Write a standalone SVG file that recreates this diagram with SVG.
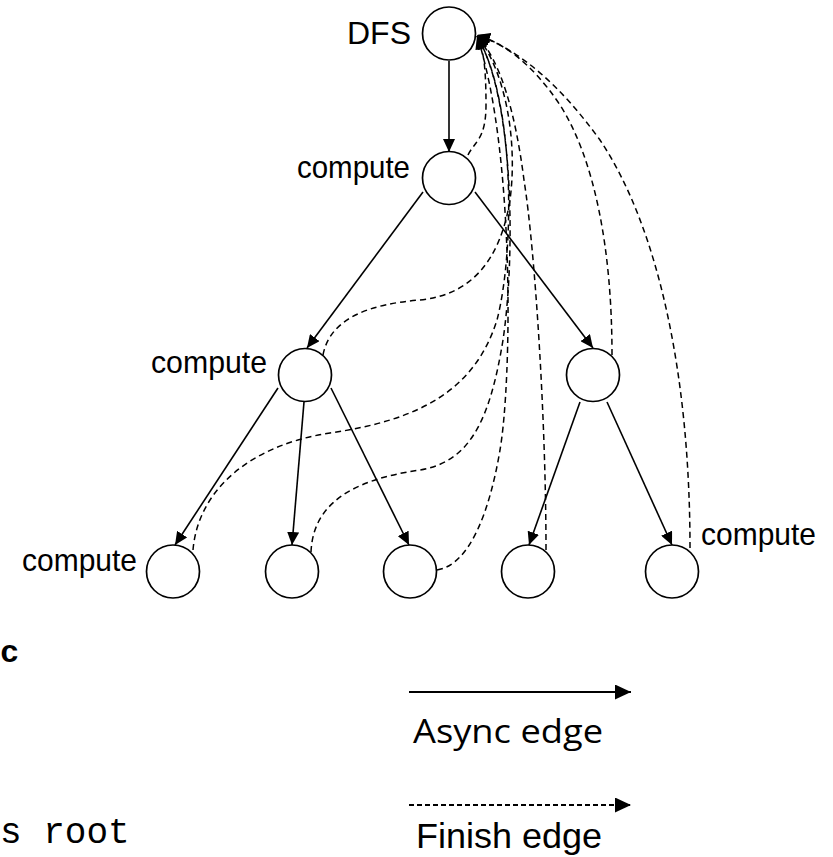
<svg xmlns="http://www.w3.org/2000/svg" width="833" height="857" viewBox="0 0 833 857">
<style>
.node{fill:#fff;stroke:#000;stroke-width:1.7}
.lbl{font-family:"Liberation Sans",Arial,sans-serif;font-size:32px;fill:#000}
.async{fill:none;stroke:#000;stroke-width:1.6}
.finish{fill:none;stroke:#000;stroke-width:1.5;stroke-dasharray:6 4}
.mono{font-family:"Liberation Mono","Courier New",monospace;fill:#000}
</style>
<defs>
<marker id="ah" markerUnits="userSpaceOnUse" markerWidth="14" markerHeight="12" refX="13" refY="6" orient="auto">
<path d="M0,0 L13,6 L0,12 z" fill="#000"/>
</marker>
<marker id="lh" markerUnits="userSpaceOnUse" markerWidth="16" markerHeight="15" refX="16" refY="7.5" orient="auto">
<path d="M0,0 L16,7.5 L0,15 z" fill="#000"/>
</marker>
</defs>

<g id="connectors">
<path class="async" d="M449,61 L449,152" marker-end="url(#ah)"/>
<path class="async" d="M423,192 L307,348" marker-end="url(#ah)"/>
<path class="async" d="M475,192 L593,348" marker-end="url(#ah)"/>
<path class="async" d="M278,388 L175,545" marker-end="url(#ah)"/>
<path class="async" d="M304,402 L292,545" marker-end="url(#ah)"/>
<path class="async" d="M331,388 L409,545" marker-end="url(#ah)"/>
<path class="async" d="M580,402 L529,545" marker-end="url(#ah)"/>
<path class="async" d="M607,402 L672,545" marker-end="url(#ah)"/>

<path class="finish" d="M468,155 C474,142 486,140 486,105 C486,70 484,50 477,36" marker-end="url(#ah)"/>
<path class="finish" d="M323,355 C330,318 370,304 420,300 C470,295 500,262 510,200 C518,140 505,70 477,36" marker-end="url(#ah)"/>
<path class="finish" d="M193,550 C198,490 250,445 330,433 C420,420 475,390 497,320 C515,250 515,100 477,36" marker-end="url(#ah)"/>
<path class="finish" d="M311,552 C313,505 350,480 420,470 C470,462 490,420 503,340 C515,260 515,100 477,36" marker-end="url(#ah)"/>
<path class="finish" d="M437,570 C470,565 490,510 500,450 C512,380 515,150 477,36" marker-end="url(#ah)"/>
<path class="finish" d="M546,550 C546,420 535,250 524,180 C515,110 500,60 477,36" marker-end="url(#ah)"/>
<path class="finish" d="M612,355 C612,250 595,160 560,105 C530,60 500,42 477,35" marker-end="url(#ah)"/>
<path class="finish" d="M690,548 C690,380 660,230 600,140 C560,85 520,50 477,35" marker-end="url(#ah)"/>
</g>

<g id="root">
<circle class="node" cx="449" cy="33.5" r="26.5"/>
<text class="lbl" x="411" y="44" text-anchor="end" font-size="22">DFS</text>
</g>
<g id="n1">
<circle class="node" cx="449" cy="178" r="26.5"/>
<text class="lbl" x="297" y="178" textLength="113" lengthAdjust="spacingAndGlyphs">compute</text>
</g>
<g id="n2L">
<circle class="node" cx="305" cy="375" r="26.5"/>
<text class="lbl" x="151" y="373" textLength="116" lengthAdjust="spacingAndGlyphs">compute</text>
</g>
<g id="n2R">
<circle class="node" cx="593" cy="375" r="26.5"/>
</g>
<g id="n3a">
<circle class="node" cx="173" cy="571.5" r="26.5"/>
<text class="lbl" x="22" y="571" textLength="115" lengthAdjust="spacingAndGlyphs">compute</text>
</g>
<g id="n3b">
<circle class="node" cx="292" cy="571.5" r="26.5"/>
</g>
<g id="n3c">
<circle class="node" cx="410" cy="571.5" r="26.5"/>
</g>
<g id="n3d">
<circle class="node" cx="528" cy="571.5" r="26.5"/>
</g>
<g id="n3e">
<circle class="node" cx="672" cy="571.5" r="26.5"/>
<text class="lbl" x="701" y="545" textLength="115" lengthAdjust="spacingAndGlyphs">compute</text>
</g>

<g id="legend">
<line x1="409" y1="692" x2="631" y2="692" stroke="#000" stroke-width="2.2" marker-end="url(#lh)"/>
<text x="413" y="743" font-family="'Open Sans',Calibri,sans-serif" font-size="33" textLength="190" lengthAdjust="spacingAndGlyphs">Async edge</text>
<line x1="409" y1="805" x2="631" y2="805" stroke="#000" stroke-width="2" stroke-dasharray="5 3" marker-end="url(#lh)"/>
<text x="416" y="848" font-family="'Liberation Sans',Arial,sans-serif" font-size="35" textLength="186" lengthAdjust="spacingAndGlyphs">Finish edge</text>
</g>

<g id="code">
<text class="mono" x="0" y="662" font-size="32" font-weight="bold">c</text>
<text class="mono" x="0" y="843" font-size="36">s root</text>
</g>
</svg>
